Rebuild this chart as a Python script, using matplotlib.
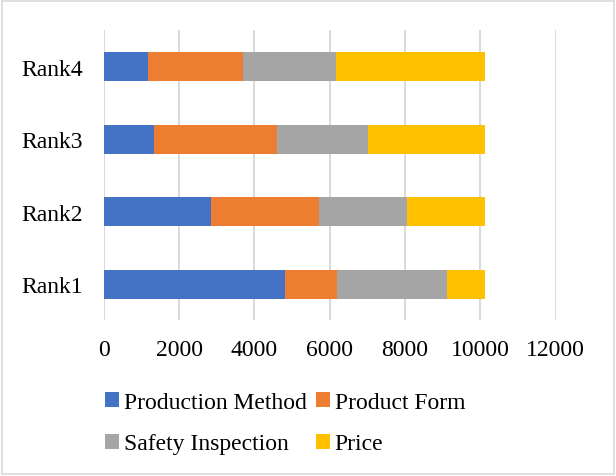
import numpy as np
import matplotlib.pyplot as plt
from matplotlib.patches import Rectangle

plt.rcParams['font.family'] = ['Liberation Serif', 'DejaVu Serif']

ranks = ['Rank1', 'Rank2', 'Rank3', 'Rank4']
production_method = [4815, 2832, 1318, 1159]
product_form = [1379, 2895, 3293, 2523]
safety_inspection = [2924, 2337, 2409, 2488]
price = [1009, 2063, 3107, 3957]

series = [('Production Method', production_method, '#4472C4'),
          ('Product Form', product_form, '#ED7D31'),
          ('Safety Inspection', safety_inspection, '#A5A5A5'),
          ('Price', price, '#FFC000')]

fig = plt.figure(figsize=(6.16, 4.77), dpi=100)
ax = fig.add_axes([0.1688, 0.326, 0.733, 0.608])

y = np.arange(len(ranks))
left = np.zeros(len(ranks))
bars = {}
for name, vals, col in series:
    bars[name] = ax.barh(y, vals, left=left, height=0.4, color=col, label=name, zorder=3)
    left += np.array(vals)

ax.set_xlim(0, 12000)
ax.set_ylim(-0.5, 3.5)
ax.set_xticks(np.arange(0, 12001, 2000))
ax.set_yticks(y)
ax.set_yticklabels(ranks)
ax.grid(axis='x', color='#d9d9d9', linewidth=1.4, zorder=0)
ax.tick_params(axis='both', length=0, labelsize=17)
ax.tick_params(axis='x', pad=13)
ax.tick_params(axis='y', pad=15)
for s in ax.spines.values():
    s.set_visible(False)

# order so rows read PM, PF / SI, Price
order = ['Production Method', 'Safety Inspection', 'Product Form', 'Price']
fig.legend([bars[n] for n in order], order, ncol=2, loc='center',
           bbox_to_anchor=(285 / 616, 1 - 424 / 477), frameon=False,
           fontsize=17, handlelength=0.6, handleheight=0.6,
           handletextpad=0.2, columnspacing=0.4, labelspacing=0.88)

# light border around the chart
fig.patches.append(Rectangle((0.004, 0.004), 0.992, 0.992, transform=fig.transFigure,
                             fill=False, edgecolor='#d9d9d9', linewidth=1.2))

plt.savefig('out.png', dpi=100)
